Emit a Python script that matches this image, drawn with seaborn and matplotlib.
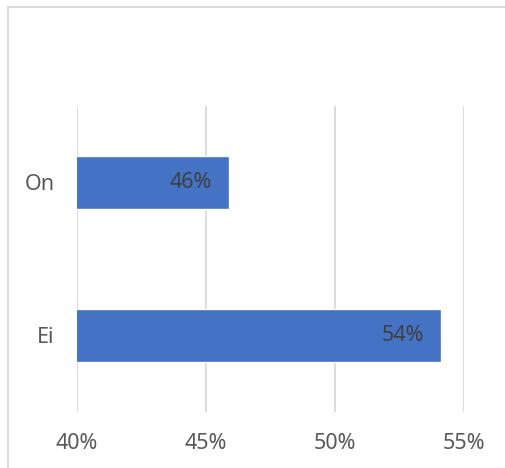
import pandas as pd
import numpy as np
import matplotlib.pyplot as plt
import seaborn as sns
from matplotlib.lines import Line2D

# Data
categories = ["On", "Ei"]
shares = [0.459, 0.541]
labels = ["46%", "54%"]
ticks = [0.40, 0.45, 0.50, 0.55]
tick_labels = ["40%", "45%", "50%", "55%"]

df = pd.DataFrame({"category": categories, "share": shares})

sns.set_theme(style="white")
plt.rcParams['font.family'] = ['Noto Sans', 'DejaVu Sans']

fig = plt.figure(figsize=(5.06, 4.68), dpi=100)
ax = fig.add_axes([0.152, 0.1197, 0.765, 0.6538])

sns.barplot(data=df, x="share", y="category", orient="h", color="#4472C4",
            width=0.35, saturation=1, ax=ax)

ax.set_xlim(0.40, 0.55)
ax.set_xticks(ticks)
ax.set_xticklabels(tick_labels)
ax.xaxis.grid(True, color="#D9D9D9", linewidth=1.3)
ax.set_axisbelow(True)
ax.set_xlabel("")
ax.set_ylabel("")
for s in ax.spines.values():
    s.set_visible(False)
ax.tick_params(axis="x", length=0, pad=15, labelsize=15.5, labelcolor="#595959")
ax.tick_params(axis="y", length=0, pad=16, labelsize=15.5, labelcolor="#595959")

# value labels inside the bar end
for p, lab in zip(ax.patches, labels):
    ax.annotate(lab, (p.get_x() + p.get_width(), p.get_y() + p.get_height() / 2),
                xytext=(-17, 0), textcoords="offset pixels",
                ha="right", va="center", fontsize=15.5, color="#404040")

# light frame: only top and left edges are inside the picture
x0, y0 = 8 / 506, 1 - 7 / 468
fig.add_artist(Line2D([x0, 1.0], [y0, y0], transform=fig.transFigure,
                      color="#D9D9D9", linewidth=1.3))
fig.add_artist(Line2D([x0, x0], [0.0, y0], transform=fig.transFigure,
                      color="#D9D9D9", linewidth=1.3))

fig.savefig("out.png", dpi=100)
